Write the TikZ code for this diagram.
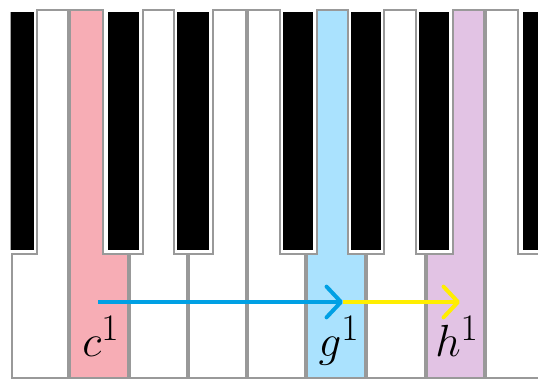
\documentclass[tikz,border=0pt]{standalone}
\usetikzlibrary{arrows.meta}
\definecolor{keyC}{RGB}{247,173,181}
\definecolor{keyG}{RGB}{170,226,254}
\definecolor{keyH}{RGB}{226,195,228}
\definecolor{arrBlue}{RGB}{0,160,228}
\definecolor{arrYellow}{RGB}{255,238,0}

\begin{document}
\begin{tikzpicture}[
  x=0.553pt, y=-0.553pt,
  whitekey/.style={draw=gray!80,line width=0.8pt},
  blackkey/.style={fill=black},
  notelbl/.style={font=\Huge,anchor=base,inner sep=0pt},
  arr/.style={line width=2.2pt,-{Straight Barb[length=8pt,width=17pt,round]}}
]
\useasboundingbox (0,0) rectangle (538,380);

\begin{scope}
\clip (10.5,0) rectangle (538,380);
% white keys: narrow top, wide bottom
\foreach \tl/\tr/\bl/\br/\col in {37/68/12/68/white, 70/103/70/128/keyC,
    143/174/130/187/white, 213/246/189/246/white, 248/280/248/305/white,
    317/348/307/365/keyG, 384/416/367/425/white, 453/484/427/484/keyH,
    486/518/486/544/white}
  \draw[whitekey,fill=\col] (\tl,10) -- (\tr,10) -- (\tr,254) -- (\br,254)
    -- (\br,378) -- (\bl,378) -- (\bl,254) -- (\tl,254) -- cycle;
% black keys
\foreach \l/\r in {4/34, 108/139, 177/209, 283/313, 351/381, 419/449, 523/553}
  \fill[blackkey] (\l,12) rectangle (\r,250);
\end{scope}

\node[notelbl] (c1) at (101,357) {$c^1$};
\node[notelbl] (g1) at (339,357) {$g^1$};
\node[notelbl] (h1) at (457,357) {$h^1$};

\coordinate (c1 arr) at (98,302);
\coordinate (g1 arr) at (343,302);
\coordinate (h1 arr) at (460,302);
\draw[arr,arrYellow] (g1 arr) -- (h1 arr);
\draw[arr,arrBlue] (c1 arr) -- (g1 arr);
\end{tikzpicture}
\end{document}
